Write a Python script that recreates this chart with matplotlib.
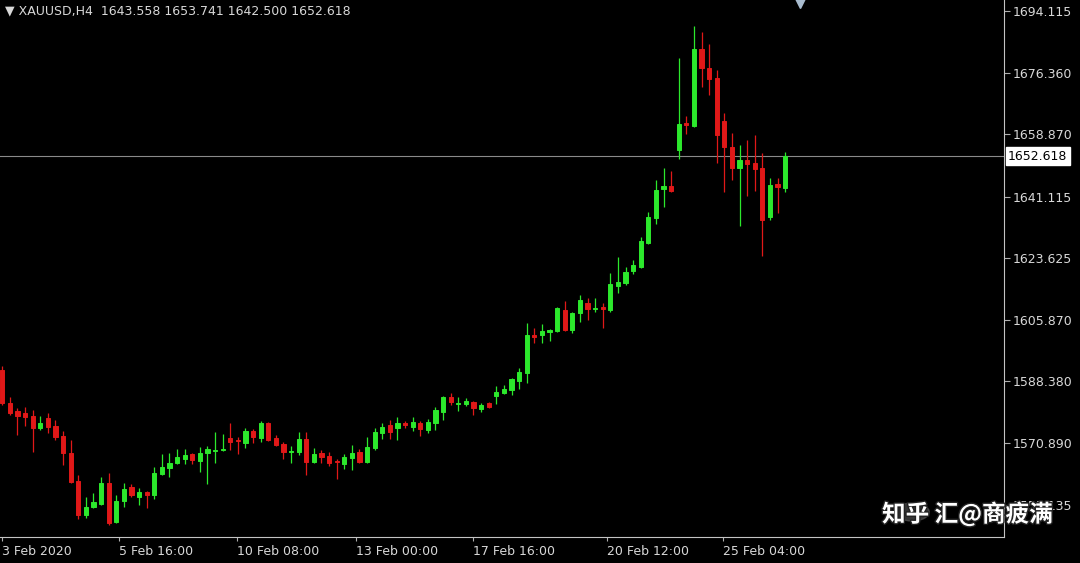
import numpy as np
import matplotlib.pyplot as plt
import matplotlib.transforms as mtransforms
import matplotlib.patheffects as pe

# XAUUSD H4 candles
opens = [1591.7, 1582.2, 1580.0, 1579.4, 1578.5, 1575.1, 1578.0, 1575.7, 1572.8, 1568.0,
         1560.0, 1550.3, 1552.5, 1553.4, 1559.4, 1548.3, 1554.3, 1558.3, 1555.4, 1556.8,
         1556.0, 1562.0, 1563.7, 1565.1, 1566.3, 1567.7, 1565.7, 1568.0, 1568.5, 1568.8,
         1572.2, 1571.7, 1570.8, 1574.2, 1572.2, 1576.5, 1572.2, 1570.5, 1568.3, 1568.3,
         1572.0, 1565.4, 1568.0, 1567.1, 1565.7, 1564.8, 1566.5, 1568.3, 1565.4, 1569.4,
         1573.7, 1576.0, 1575.1, 1576.5, 1575.4, 1576.5, 1574.5, 1576.5, 1579.7, 1584.0,
         1582.0, 1582.0, 1582.5, 1580.5, 1582.2, 1584.2, 1585.1, 1585.9, 1588.5, 1590.8,
         1601.6, 1601.6, 1602.5, 1602.8, 1608.8, 1603.1, 1607.9, 1610.8, 1609.1, 1609.6,
         1608.8, 1615.6, 1616.5, 1619.9, 1621.1, 1627.9, 1635.0, 1643.3, 1644.2, 1654.4,
         1662.2, 1661.3, 1683.3, 1677.8, 1675.0, 1662.7, 1655.3, 1649.3, 1651.6, 1650.7,
         1649.3, 1635.3, 1644.7, 1643.558]
highs = [1592.8, 1584.0, 1580.8, 1581.1, 1580.2, 1578.5, 1579.4, 1577.4, 1574.2, 1571.7,
         1561.7, 1555.4, 1556.5, 1561.1, 1562.3, 1556.0, 1559.4, 1559.1, 1558.0, 1557.1,
         1564.0, 1567.7, 1568.0, 1569.1, 1569.1, 1568.0, 1569.7, 1570.0, 1574.0, 1573.4,
         1576.5, 1572.5, 1575.1, 1574.8, 1577.1, 1576.8, 1573.1, 1571.1, 1570.0, 1574.0,
         1574.0, 1569.4, 1568.8, 1568.3, 1566.3, 1567.7, 1570.3, 1569.1, 1572.5, 1575.1,
         1576.5, 1577.4, 1578.2, 1577.1, 1578.2, 1577.1, 1577.7, 1581.1, 1584.2, 1585.1,
         1584.0, 1583.7, 1582.8, 1582.2, 1582.5, 1587.1, 1587.4, 1589.4, 1592.2, 1605.1,
         1603.6, 1604.8, 1603.3, 1609.6, 1611.3, 1608.2, 1613.1, 1612.2, 1612.2, 1610.8,
         1619.3, 1623.9, 1621.1, 1623.1, 1629.6, 1636.8, 1645.9, 1649.3, 1648.5, 1680.7,
         1664.1, 1689.8, 1688.1, 1684.7, 1677.3, 1665.0, 1659.3, 1655.9, 1657.3, 1658.7,
         1653.6, 1646.5, 1646.5, 1653.741]
lows = [1581.7, 1578.8, 1573.1, 1575.7, 1568.3, 1574.5, 1573.7, 1571.7, 1564.5, 1559.4,
        1549.1, 1549.4, 1552.3, 1553.1, 1547.4, 1548.0, 1552.5, 1555.4, 1553.1, 1552.3,
        1554.8, 1561.7, 1561.1, 1564.8, 1564.8, 1564.8, 1562.5, 1559.1, 1565.1, 1568.5,
        1568.8, 1567.7, 1569.4, 1570.8, 1571.1, 1571.4, 1570.0, 1566.3, 1565.1, 1567.4,
        1561.7, 1565.1, 1565.1, 1564.3, 1560.5, 1563.4, 1563.1, 1565.1, 1565.1, 1568.8,
        1572.0, 1572.0, 1571.7, 1575.1, 1574.2, 1572.8, 1573.7, 1574.5, 1577.4, 1581.7,
        1580.0, 1581.4, 1578.8, 1579.7, 1580.8, 1582.0, 1584.8, 1584.5, 1586.2, 1587.9,
        1599.4, 1599.4, 1599.9, 1602.5, 1602.8, 1602.2, 1605.4, 1605.9, 1608.2, 1603.6,
        1608.2, 1613.6, 1615.9, 1619.1, 1620.8, 1627.6, 1633.3, 1638.2, 1642.5, 1651.9,
        1659.0, 1661.0, 1672.4, 1670.1, 1650.7, 1642.5, 1645.9, 1632.8, 1641.3, 1642.7,
        1624.2, 1634.5, 1636.5, 1642.500]
closes = [1582.2, 1579.4, 1578.5, 1578.2, 1575.1, 1576.5, 1575.4, 1572.5, 1568.0, 1559.7,
          1550.3, 1552.5, 1554.0, 1559.4, 1548.0, 1554.3, 1557.7, 1556.0, 1556.8, 1556.0,
          1562.3, 1564.0, 1565.1, 1566.8, 1567.4, 1566.0, 1568.0, 1569.1, 1568.8, 1569.1,
          1571.1, 1571.4, 1574.2, 1572.5, 1576.5, 1571.7, 1570.3, 1568.3, 1568.5, 1572.0,
          1565.4, 1567.7, 1566.8, 1565.1, 1565.4, 1566.8, 1568.0, 1565.4, 1569.7, 1574.0,
          1575.4, 1574.0, 1576.5, 1576.0, 1576.8, 1574.8, 1576.8, 1580.2, 1584.0, 1582.5,
          1582.2, 1582.8, 1580.8, 1581.7, 1581.1, 1585.4, 1586.2, 1589.1, 1591.1, 1601.6,
          1601.1, 1602.8, 1603.1, 1609.4, 1603.1, 1607.9, 1611.6, 1609.1, 1609.4, 1609.1,
          1616.2, 1616.8, 1619.6, 1621.6, 1628.5, 1635.3, 1643.0, 1644.2, 1642.7, 1661.9,
          1661.6, 1683.3, 1677.8, 1674.7, 1658.7, 1655.3, 1649.3, 1651.6, 1650.4, 1649.0,
          1634.5, 1644.5, 1643.9, 1652.618]

price_ticks = [1553.135, 1570.890, 1588.380, 1605.870, 1623.625,
               1641.115, 1658.870, 1676.360, 1694.115]
time_labels = ['3 Feb 2020', '5 Feb 16:00', '10 Feb 08:00', '13 Feb 00:00',
               '17 Feb 16:00', '20 Feb 12:00', '25 Feb 04:00']
time_pos = [0, 15.4, 30.9, 46.5, 62.0, 79.5, 94.8]
symbol = 'XAUUSD,H4'

plt.rcParams['font.family'] = ['DejaVu Sans', 'Noto Sans CJK SC']

bull = '#2ce82c'
bear = '#e01818'
fg = '#d8d8d8'

o = np.array(opens)
h = np.array(highs)
l = np.array(lows)
c = np.array(closes)
x = np.arange(len(o))
colors = np.where(c > o, bull, bear)

fig = plt.figure(figsize=(10.8, 5.63), dpi=100, facecolor='black')
ax = fig.add_axes([0, 26 / 563, 1004 / 1080, 537 / 563], facecolor='black')

ax.vlines(x, l, h, colors=colors, lw=0.9, zorder=2)
ax.bar(x, np.maximum(np.abs(c - o), 0.05), bottom=np.minimum(o, c), width=0.56,
       color=colors, edgecolor=colors, lw=0.7, zorder=3)

# last price line + label
ax.axhline(c[-1], color='#8a8a8a', lw=0.8, zorder=1)
trans = mtransforms.blended_transform_factory(ax.transAxes, ax.transData)
ax.text(1.004, c[-1], f'{c[-1]:.3f}', transform=trans, color='black', fontsize=9,
        va='center', ha='left',
        bbox=dict(boxstyle='square,pad=0.2', fc='white', ec='white'))

# chart shift marker
ax.plot([len(o) + 1], [1.0], marker='v', ms=11, color='#a9bccf', mec='#a9bccf',
        transform=mtransforms.blended_transform_factory(ax.transData, ax.transAxes),
        clip_on=False, zorder=5)

ax.set_xlim(-0.3, 131.8)
ax.set_ylim(1544.0, 1697.25)

ax.yaxis.tick_right()
ax.set_yticks(price_ticks)
ax.set_yticklabels([f'{v:.3f}' for v in price_ticks])
ax.set_xticks(time_pos)
ax.set_xticklabels(time_labels, ha='left')
ax.tick_params(axis='y', colors='#b0b0b0', labelcolor=fg, labelsize=9, length=4, width=0.8, pad=2)
ax.tick_params(axis='x', colors='#b0b0b0', labelcolor=fg, labelsize=9, length=3, width=0.8, pad=3)

for side in ['left', 'top']:
    ax.spines[side].set_visible(False)
for side in ['right', 'bottom']:
    ax.spines[side].set_color('#c4c4c4')
    ax.spines[side].set_linewidth(0.8)

header = f'\u25bc {symbol}  {o[-1]:.3f} {h[-1]:.3f} {l[-1]:.3f} {c[-1]:.3f}'
fig.text(5 / 1080, 1 - 11 / 563, header, color=fg, fontsize=9, va='center', ha='left')

# watermark (it sits over the lowest price label, as in the screenshot)
fig.patches.append(plt.Circle((912 / 1080, 1 - 512 / 563), 0.016, transform=fig.transFigure,
                              color='#5a5a5a', alpha=0.6, figure=fig))
wm = fig.text(882 / 1080, 1 - 514 / 563, '知乎 汇@商疲满', color='white', fontsize=17,
              va='center', ha='left', family=['Noto Sans CJK SC', 'DejaVu Sans'],
              fontweight='bold', zorder=10)
wm.set_path_effects([pe.withStroke(linewidth=2, foreground='#222222')])

fig.savefig('out.png', dpi=100, facecolor='black')
